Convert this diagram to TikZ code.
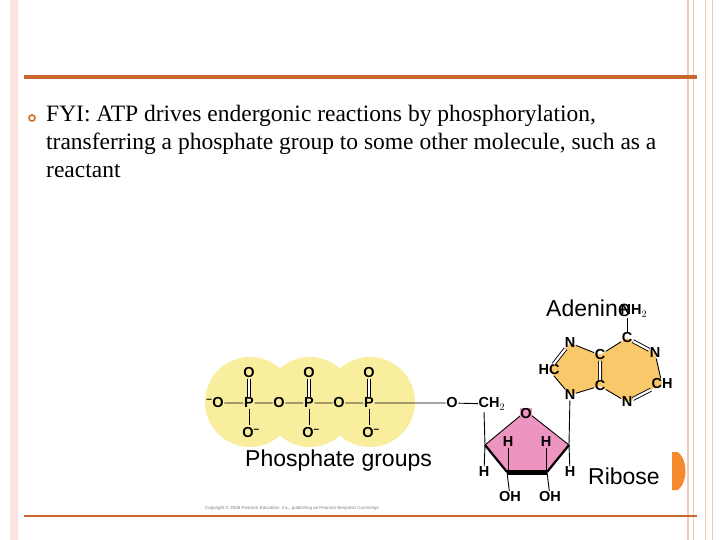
\documentclass[tikz,border=0pt]{standalone}
\usepackage{fontspec}
\setmainfont{Liberation Serif}
\newfontfamily\arial{Liberation Sans}
\definecolor{peach}{HTML}{F6C7B4}
\definecolor{rule}{HTML}{C8682E}
\definecolor{phos}{HTML}{F9EE9E}
\definecolor{aden}{HTML}{F9C86B}
\definecolor{ribo}{HTML}{EE94C0}
\definecolor{tab}{HTML}{F5892E}
\begin{document}
\begin{tikzpicture}[x=1pt,y=-1pt,
  atm/.style={font=\arial\bfseries\fontsize{14.5}{14.5}\selectfont,inner sep=0.5pt},
  lab/.style={font=\arial\fontsize{23}{23}\selectfont,inner sep=0pt},
  bond/.style={line width=0.9pt}]
\useasboundingbox (0,0) rectangle (720,540);
\fill[white] (0,0) rectangle (720,540);
% slide frame
\fill[peach!45] (10,0) rectangle (18,540);
\draw[peach,line width=1.5pt] (688,0) -- (688,540);
\draw[peach,line width=1pt] (693,0) -- (693,540);
\draw[peach,line width=1pt] (705,0) -- (705,540);
\draw[peach,line width=1pt] (712,0) -- (712,540);
\draw[rule,line width=4pt] (24,77) -- (697,77);
\draw[rule,line width=2.5pt] (24,516) -- (697,516);
% bullet text
\draw[rule!80!orange,line width=1.6pt] (32,118) circle (3pt);
\node[anchor=north west,inner sep=0,font=\fontsize{23.5}{28}\selectfont,align=left] (txt) at (46,105)
 {FYI: ATP drives endergonic reactions by phosphorylation,\\ transferring a phosphate group to some other molecule, such as a\\ reactant};
% phosphate circles
\fill[phos] (250,402) circle (45) (310,402) circle (45) (370,402) circle (45);
\foreach \i/\x in {1/249,2/309,3/369}{
  \node[atm] (p\i) at (\x,403) {P};
  \node[atm] (ot\i) at (\x,373) {O};
  \node[atm] (ob\i) at (\x+2,433) {O\textsuperscript{–}};
  \draw[bond,double,double distance=2.2pt] (ot\i) -- (p\i);
  \draw[bond] (p\i) -- (\x,425);
}
\node[atm] (o0) at (215,403) {\textsuperscript{–}O};
\node[atm] (o1) at (279,403) {O};
\node[atm] (o2) at (339,403) {O};
\node[atm] (o3) at (452,403) {O};
\node[atm,anchor=west] (ch2) at (478,404) {CH$_2$};
\draw[bond] (o0)--(p1) (p1)--(o1) (o1)--(p2) (p2)--(o2) (o2)--(p3) (p3)--(o3) (o3)--(ch2);
% ribose
\coordinate (rt) at (526,411); \coordinate (rl) at (485,445); \coordinate (rbl) at (507,472);
\coordinate (rbr) at (547,472); \coordinate (rr) at (569,445);
\fill[ribo] (rt)--(rl)--(rbl)--(rbr)--(rr)--cycle;
\draw[bond] (rl)--(rt)--(rr);
\draw[line width=2.2pt] (rl)--(rbl);
\draw[line width=5pt] (rbl)--(rbr);
\draw[line width=2.2pt] (rbr)--(rr);
\node[atm,fill=ribo] (ro) at (526,414) {O};
\node[atm] (h1) at (508,442) {H};
\node[atm] (h2) at (546,442) {H};
\draw[bond] (h1)--(508,470) (h2)--(546,470);
\node[atm] (h3) at (484,472) {H};
\node[atm] (h4) at (570,472) {H};
\node[atm] (oh1) at (510,497) {OH};
\node[atm] (oh2) at (550,497) {OH};
\draw[bond] (rbl)--(oh1) (rbr)--(oh2) (rl)--(h3) (rr)--(h4) (rl)--(484,412);
% adenine
\coordinate (a1) at (570,343); \coordinate (a2) at (600,355); \coordinate (a3) at (600,386);
\coordinate (a4) at (570,395); \coordinate (a5) at (549,370); \coordinate (a6) at (627,338);
\coordinate (a7) at (655,353); \coordinate (a8) at (662,384); \coordinate (a9) at (627,402);
\fill[aden] (a1)--(a2)--(a6)--(a7)--(a8)--(a9)--(a3)--(a4)--(a5)--cycle;
\node[atm] (n1) at (a1) {N}; \node[atm] (c2) at (a2) {C}; \node[atm] (c3) at (a3) {C};
\node[atm] (n4) at (a4) {N}; \node[atm] (hc) at (a5) {HC}; \node[atm] (c6) at (a6) {C};
\node[atm] (n7) at (a7) {N}; \node[atm] (ch) at (a8) {CH}; \node[atm] (n9) at (a9) {N};
\node[atm,anchor=west] (nh2) at (620,311) {NH$_2$};
\draw[bond] (c6)--(627,318);
\draw[bond] (n1)--(c2) (c3)--(n4) (n4)--(hc) (c2)--(c6) (n7)--(ch) (n9)--(c3);
\draw[bond,double,double distance=2.2pt] (hc)--(n1) (c2)--(c3) (c6)--(n7) (ch)--(n9);
\draw[bond] (n4)--(rr);
% labels
\node[lab,anchor=west] (ad) at (546,308) {Adenine};
\node[lab,anchor=west] (pg) at (245,461) {Phosphate groups};
\node[lab,anchor=west] (rb) at (588,476) {Ribose};
\node[anchor=west,inner sep=0,text=gray,font=\arial\fontsize{4.5}{5}\selectfont] (cp) at (205,508)
 {Copyright \textcopyright\ 2008 Pearson Education, Inc., publishing as Pearson Benjamin Cummings};
\fill[tab] (672,452) -- (678,452) .. controls (688,460) and (688,482) .. (678,490) -- (672,490) -- cycle;
\end{tikzpicture}
\end{document}
